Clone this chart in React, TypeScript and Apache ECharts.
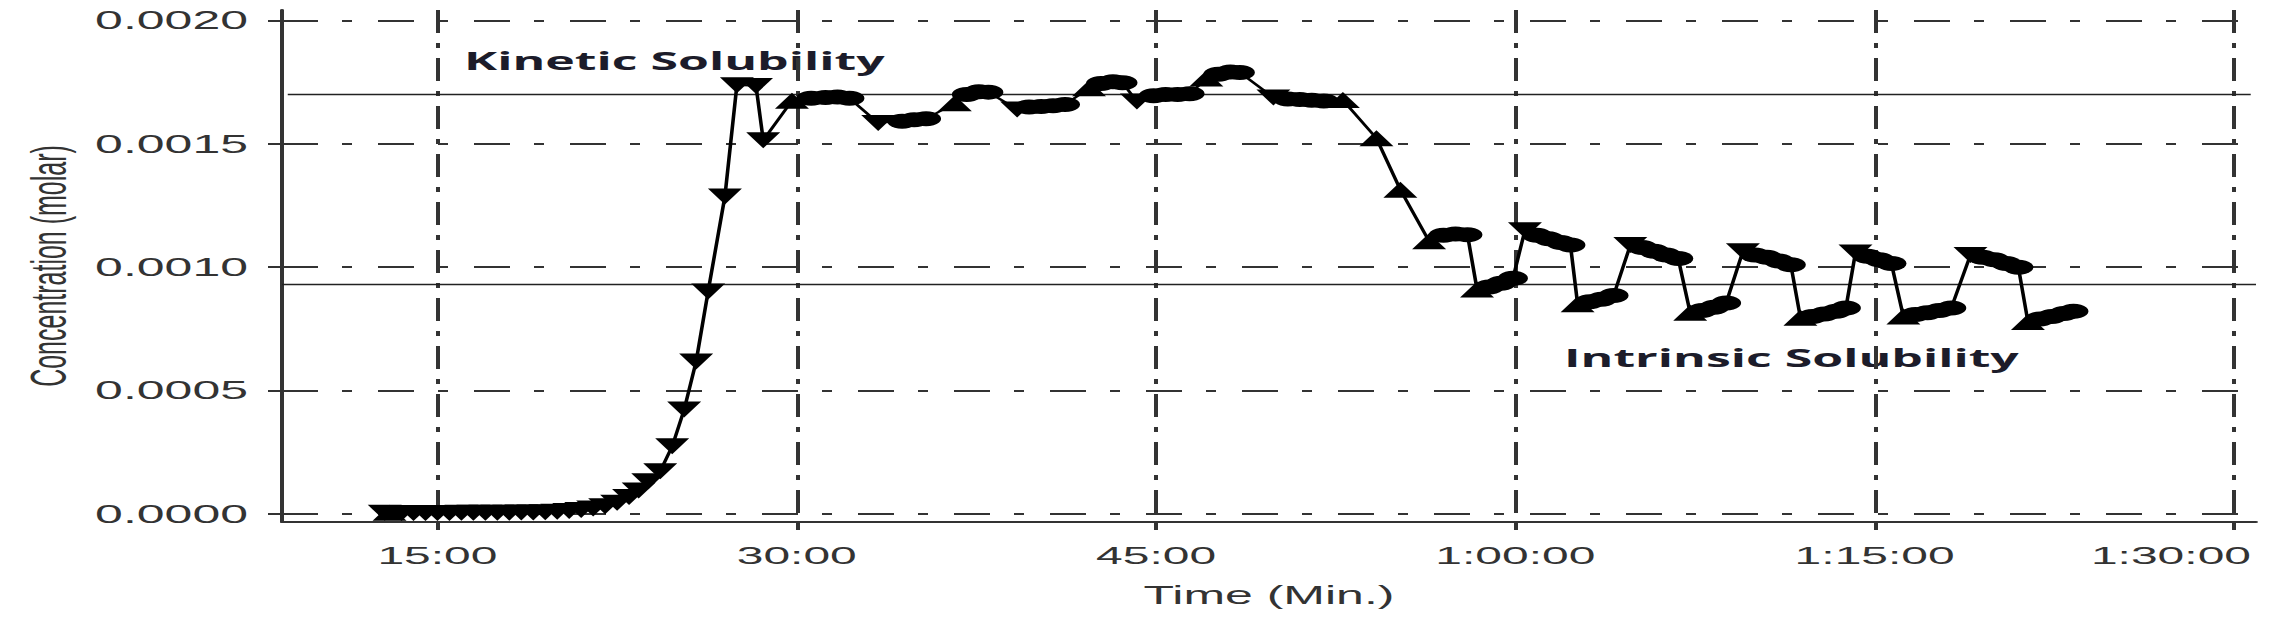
import React, { useEffect, useRef } from "react";
import * as echarts from "echarts";

// The reference image is horizontally stretched; the chart is drawn at half width and scaled.
const STRETCH = 2;
const PAGE_W = 2292;
const PAGE_H = 626;

const xTickValues = [15, 30, 45, 60, 75, 90];
const yTickValues = [0, 0.0005, 0.001, 0.0015, 0.002];
const xRange = [8.51, 90.92];
const yRange = [-0.000033, 0.002043];

const kineticSolubility = 0.0017;
const kineticSpan = [8.75, 90.7];
const intrinsicSolubility = 0.00093;
const intrinsicSpan = [8.51, 90.92];

// time in minutes
const times = [
  12.8, 13.0, 13.5, 14.0, 14.5, 15.0, 15.5, 16.0, 16.5, 17.0,
  17.5, 18.0, 18.5, 19.0, 19.5, 20.0, 20.5, 21.0, 21.5, 22.0,
  22.5, 23.0, 23.4, 23.8, 24.3, 24.8, 25.3, 25.8, 26.3, 27.0,
  27.5, 28.3, 28.6, 29.8, 30.6, 31.2, 31.7, 32.2, 33.4, 34.4,
  34.9, 35.4, 36.6, 37.1, 37.6, 38.0, 39.2, 39.7, 40.2, 40.7,
  41.2, 42.2, 42.7, 43.2, 43.6, 44.2, 44.9, 45.4, 45.9, 46.4,
  47.1, 47.6, 48.1, 48.5, 49.9, 50.5, 51.0, 51.5, 52.0, 52.8,
  54.2, 55.2, 56.4, 57.0, 57.5, 58.0, 58.4, 58.9, 59.4, 59.9,
  60.4, 60.9, 61.4, 61.9, 62.3, 62.6, 63.1, 63.6, 64.1, 64.8,
  65.3, 65.8, 66.3, 66.8, 67.3, 67.8, 68.3, 68.8, 69.5, 70.0,
  70.5, 71.0, 71.5, 71.9, 72.4, 72.9, 73.4, 73.8, 74.2, 74.7,
  75.2, 75.7, 76.2, 76.7, 77.2, 77.7, 78.2, 79.0, 79.5, 80.0,
  80.5, 81.0, 81.4, 81.9, 82.4, 82.9, 83.3,
];

// concentration (molar)
const concentrations = [
  0.000004, 0.000004, 0.000003, 0.000003, 0.000003, 0.000003, 0.000003, 0.000004, 0.000004, 0.000004,
  0.000005, 0.000005, 0.000006, 0.000006, 0.000007, 0.000009, 0.000012, 0.000016, 0.000022, 0.000031,
  0.000045, 0.000068, 0.000095, 0.000132, 0.000173, 0.000274, 0.000423, 0.000618, 0.000902, 0.001287,
  0.001738, 0.001735, 0.001515, 0.001675, 0.001685, 0.001688, 0.00169, 0.001685, 0.001585, 0.001592,
  0.001598, 0.001602, 0.001665, 0.0017, 0.001712, 0.00171, 0.00164, 0.00165, 0.001652, 0.001655,
  0.00166, 0.001726, 0.001745, 0.001752, 0.001748, 0.001672, 0.001695, 0.0017, 0.0017, 0.001703,
  0.001765, 0.001782, 0.001792, 0.00179, 0.001688, 0.001682, 0.00168, 0.001677, 0.001674, 0.001678,
  0.001523, 0.001314, 0.001105, 0.00113, 0.001135, 0.001132, 0.00091, 0.00092, 0.000935, 0.000955,
  0.00115, 0.00113, 0.001115, 0.0011, 0.00109, 0.00085, 0.00086, 0.00087, 0.000885, 0.00109,
  0.00108, 0.001065, 0.00105, 0.001035, 0.000815, 0.000825, 0.000838, 0.000855, 0.001065, 0.00105,
  0.00104, 0.001025, 0.00101, 0.000795, 0.0008, 0.00081, 0.000822, 0.000835, 0.00106, 0.001045,
  0.00103, 0.001015, 0.0008, 0.000808, 0.000815, 0.000825, 0.000835, 0.00105, 0.00104, 0.00103,
  0.001015, 0.001, 0.000778, 0.00079, 0.0008, 0.000812, 0.000822,
];

// marker kind per point: d = down triangle, u = up triangle, o = round
const markerKinds = [
  "d", "u", "d", "d", "d", "d", "d", "d", "d", "d",
  "d", "d", "d", "d", "d", "d", "d", "d", "d", "d",
  "d", "d", "d", "d", "d", "d", "d", "d", "d", "d",
  "d", "d", "d", "u", "o", "o", "o", "o", "d", "o",
  "o", "o", "u", "o", "o", "o", "d", "o", "o", "o",
  "o", "u", "o", "o", "o", "d", "o", "o", "o", "o",
  "u", "o", "o", "o", "d", "o", "o", "o", "o", "u",
  "u", "u", "u", "o", "o", "o", "u", "o", "o", "o",
  "d", "o", "o", "o", "o", "u", "o", "o", "o", "d",
  "o", "o", "o", "o", "u", "o", "o", "o", "d", "o",
  "o", "o", "o", "u", "o", "o", "o", "o", "d", "o",
  "o", "o", "u", "o", "o", "o", "o", "d", "o", "o",
  "o", "o", "u", "o", "o", "o", "o",
];

const FONT = "Liberation Sans";
const INK = "#333";

function formatTime(m: number): string {
  const h = Math.floor(m / 60);
  const mm = Math.round(m - h * 60);
  const pad = (n: number) => (n < 10 ? "0" + n : String(n));
  return h > 0 ? `${h}:${pad(mm)}:00` : `${mm}:00`;
}

export default function App() {
  const ref = useRef<HTMLDivElement>(null);

  useEffect(() => {
    if (!ref.current) return;
    const chart = echarts.init(ref.current, null, { renderer: "svg" });

    const mainData = times.map((t, i) => {
      const k = markerKinds[i];
      return {
        value: [t, concentrations[i]],
        symbol: k === "o" ? "circle" : "triangle",
        symbolRotate: k === "d" ? 180 : 0,
        symbolSize: k === "o" ? 15 : [17, 16],
      };
    });

    const lastTick = xTickValues[xTickValues.length - 1];

    chart.setOption({
      animation: false,
      backgroundColor: "#ffffff",
      textStyle: { fontFamily: FONT },
      grid: {
        left: 141,
        right: 18,
        top: 10,
        bottom: 104,
        containLabel: false,
        outerBoundsMode: "none",
      },
      xAxis: {
        type: "value",
        min: xRange[0],
        max: xRange[1],
        name: "Time (Min.)",
        nameLocation: "middle",
        nameGap: 61,
        nameTextStyle: { fontSize: 25, color: INK, fontFamily: FONT },
        axisLine: { show: true, onZero: false, lineStyle: { color: INK, width: 2 } },
        axisTick: {
          show: true,
          length: 8,
          customValues: xTickValues,
          lineStyle: { color: INK, width: 2 },
        },
        axisLabel: {
          customValues: xTickValues,
          formatter: (v: number) =>
            v === lastTick ? `{edge|${formatTime(v)}}` : formatTime(v),
          fontSize: 24,
          color: INK,
          margin: 22,
          fontFamily: FONT,
          rich: {
            edge: {
              fontSize: 24,
              color: INK,
              fontFamily: FONT,
              padding: [0, 63, 0, 0],
            },
          },
        },
        splitLine: {
          show: true,
          lineStyle: { color: INK, width: 2, type: [23, 10, 5, 10] },
        },
      },
      yAxis: {
        type: "value",
        min: yRange[0],
        max: yRange[1],
        name: "Concentration (molar)",
        nameLocation: "middle",
        nameGap: 98,
        nameTextStyle: { fontSize: 25, color: INK, fontFamily: FONT },
        axisLine: { show: true, onZero: false, lineStyle: { color: INK, width: 2 } },
        axisTick: {
          show: true,
          length: 7,
          customValues: yTickValues,
          lineStyle: { color: INK, width: 2 },
        },
        axisLabel: {
          customValues: yTickValues,
          formatter: (v: number) => v.toFixed(4),
          fontSize: 25,
          color: INK,
          margin: 17,
          fontFamily: FONT,
        },
        splitLine: {
          show: true,
          lineStyle: { color: INK, width: 2, type: [18, 12, 5, 13] },
        },
      },
      graphic: [
        {
          type: "text",
          x: 232,
          y: 61,
          silent: true,
          style: {
            text: "Kinetic Solubility",
            fontSize: 25,
            fontWeight: "bold",
            fontFamily: "Open Sans",
            fill: "#1c1c2a",
            align: "left",
            verticalAlign: "middle",
          },
        },
        {
          type: "text",
          x: 782,
          y: 358,
          silent: true,
          style: {
            text: "Intrinsic Solubility",
            fontSize: 25,
            fontWeight: "bold",
            fontFamily: "Open Sans",
            fill: "#1c1c2a",
            align: "left",
            verticalAlign: "middle",
          },
        },
      ],
      series: [
        {
          name: "Kinetic Solubility",
          type: "line",
          data: [
            [kineticSpan[0], kineticSolubility],
            [kineticSpan[1], kineticSolubility],
          ],
          showSymbol: false,
          silent: true,
          lineStyle: { color: "#222", width: 1.5 },
          z: 1,
        },
        {
          name: "Intrinsic Solubility",
          type: "line",
          data: [
            [intrinsicSpan[0], intrinsicSolubility],
            [intrinsicSpan[1], intrinsicSolubility],
          ],
          showSymbol: false,
          silent: true,
          lineStyle: { color: "#222", width: 1.5 },
          z: 1,
        },
        {
          name: "Concentration",
          type: "line",
          data: mainData,
          showAllSymbol: true,
          silent: true,
          lineStyle: { color: "#000", width: 1.8 },
          itemStyle: { color: "#000" },
          z: 3,
        },
      ],
    });

    return () => chart.dispose();
  }, []);

  return (
    <div
      style={{
        position: "absolute",
        left: 0,
        top: 0,
        width: PAGE_W,
        height: PAGE_H,
        overflow: "hidden",
        background: "#fff",
      }}
    >
      <div
        ref={ref}
        style={{
          width: PAGE_W / STRETCH,
          height: PAGE_H,
          transform: `scaleX(${STRETCH})`,
          transformOrigin: "0 0",
        }}
      />
    </div>
  );
}
